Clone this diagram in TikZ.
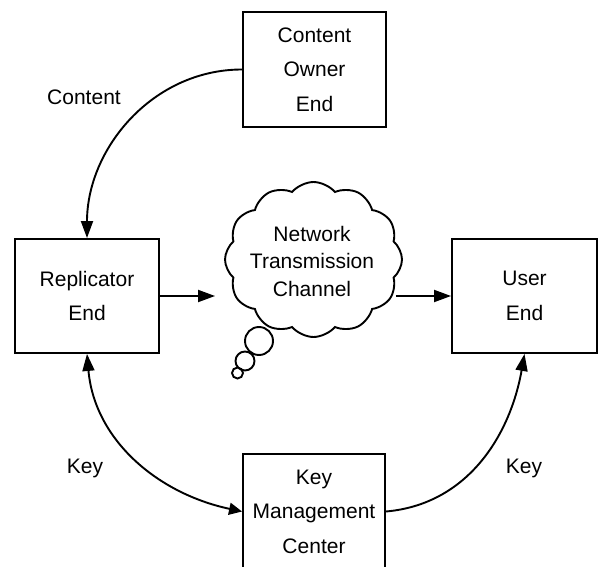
\documentclass[tikz,border=0pt]{standalone}
\usepackage{fontspec}
\setmainfont{Liberation Sans}
\usepackage{tikz}
\usetikzlibrary{arrows.meta,shapes.symbols}

\tikzset{
	block/.style={draw, line width=1.9pt, align=center,
		font={\fontsize{21}{34.5}\selectfont}},
	flow/.style={line width=1.9pt, -{Triangle[length=17pt,width=12pt]}},
	tag/.style={font={\fontsize{21}{25}\selectfont}}
}

\begin{document}
\begin{tikzpicture}[x=1pt,y=1pt]
	
	\useasboundingbox (0,0) rectangle (599,566);
	
	\node[block, minimum width=143pt, minimum height=115pt] (owner) at (314.5,496.5) {Content\\Owner\\End};
	
	\node[block, minimum width=144pt, minimum height=114pt] (rep) at (87,270) {Replicator\\End};
	
	\node[block, minimum width=145pt, minimum height=114pt] (user) at (524.5,270) {User\\End};
	
	\node[block, minimum width=142pt, minimum height=115pt] (kmc) at (314,54.5) {Key\\Management\\Center};
	
	\node[cloud, draw, line width=1.9pt, cloud puffs=12, cloud puff arc=100, aspect=1.14,
		minimum width=177pt, minimum height=155pt, inner sep=0pt] (net) at (313.5,306.5) {};
	
	\node[align=center, font={\fontsize{21}{27.5}\selectfont}] (nettext) at (312,305) {Network\\Transmission\\Channel};
	
	\draw[line width=1.9pt] (259,225) circle (14);
	\draw[line width=1.9pt] (245,205) circle (9.5);
	\draw[line width=1.9pt] (237.5,193) circle (5.5);
	
	\node[tag] (c) at (84,469) {Content};
	
	\node[tag] (k1) at (85,98) {Key};
	
	\node[tag] (k2) at (524,98) {Key};
	
	\draw[flow] (owner.west) to[out=180,in=90] (rep.north);
	\draw[flow] (rep.east) -- ([xshift=-9pt]net.west |- rep.east);
	\draw[flow] ([xshift=-7pt]net.east |- user.west) -- (user.west);
	\draw[flow, {Triangle[length=17pt,width=12pt]}-{Triangle[length=13pt,width=12pt]}] (rep.south) to[out=-85,in=168] (kmc.west);
	\draw[flow] (kmc.east) to[out=5,in=-100] (user.south);
	
\end{tikzpicture}
\end{document}
